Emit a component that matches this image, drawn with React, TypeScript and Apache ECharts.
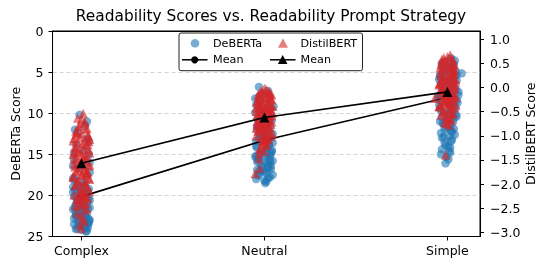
import React, { useEffect, useRef } from "react";
import * as echarts from "echarts";

const categories = ["Complex", "Neutral", "Simple"];

// [jitter offset from category, score]
const debertaComplex: [number, number][] = [
  [-0.01, 10.2], [0.02, 11.5], [-0.02, 12.4], [0.03, 13.1], [-0.03, 13.8], [0.01, 14.5], [0.04, 15.0], [-0.04, 15.6], [0.02, 22.6], [-0.01, 16.6],
  [0.03, 23.6], [-0.03, 22.4], [0.0, 21.8], [0.04, 23.4], [-0.04, 18.2], [0.02, 18.5], [-0.02, 18.8], [0.01, 19.0], [-0.035, 19.3], [0.035, 19.5],
  [-0.01, 19.7], [0.02, 19.9], [-0.04, 20.1], [0.04, 20.3], [0.0, 20.5], [-0.02, 20.7], [0.03, 20.9], [-0.03, 21.1], [0.01, 21.3], [0.045, 21.5],
  [-0.045, 21.7], [0.02, 21.9], [-0.01, 22.1], [0.03, 22.3], [-0.03, 22.5], [0.0, 22.7], [0.04, 22.9], [-0.02, 23.1], [0.02, 23.3], [-0.04, 23.5],
  [0.01, 23.7], [0.035, 23.9], [-0.025, 24.0], [0.0, 24.2], [0.025, 24.4], [-0.01, 21.0], [0.015, 20.0], [-0.03, 22.0], [0.045, 23.0], [-0.045, 19.0],
  [0.03, 17.6], [-0.035, 18.0], [0.01, 18.4], [-0.015, 18.9], [0.04, 19.2], [-0.045, 19.6], [0.005, 19.8], [0.025, 20.2], [-0.025, 20.4], [0.045, 20.6],
  [-0.005, 20.8], [0.015, 21.2], [-0.035, 21.4], [0.035, 21.6], [-0.02, 21.8], [0.0, 22.2], [0.02, 22.4], [-0.04, 22.8], [0.04, 23.2], [-0.01, 23.4],
  [0.01, 23.8], [-0.03, 24.1], [0.03, 24.3], [-0.015, 23.6], [0.02, 24.0], [-0.045, 16.4], [0.045, 17.2], [-0.04, 14.8], [0.04, 13.5], [0.03, 11.0],
  [-0.035, 12.0], [0.045, 16.0], [-0.045, 17.9], [0.0, 19.4], [-0.02, 20.6],
];
const debertaNeutral: [number, number][] = [
  [-0.03, 6.8], [0.02, 7.3], [-0.05, 8.2], [0.01, 8.7], [-0.045, 9.0], [0.03, 9.4], [-0.02, 9.8], [0.035, 10.1], [0.0, 10.4], [-0.035, 10.8],
  [0.02, 11.1], [-0.01, 11.4], [0.03, 11.7], [-0.04, 12.0], [0.01, 12.3], [-0.02, 12.6], [0.035, 12.9], [-0.03, 13.2], [0.0, 13.5], [0.025, 13.8],
  [-0.045, 14.0], [0.015, 14.3], [-0.015, 14.6], [0.035, 14.9], [-0.03, 15.1], [0.005, 15.4], [0.03, 15.7], [-0.04, 15.9], [0.02, 16.2], [-0.01, 16.5],
  [0.035, 16.8], [-0.025, 17.0], [0.01, 17.3], [-0.035, 17.6], [0.02, 17.9], [0.0, 18.2], [0.005, 18.5], [-0.02, 11.9], [0.025, 10.7], [-0.01, 9.5],
  [0.015, 12.2], [-0.005, 13.0], [0.04, 14.5], [-0.035, 15.5], [0.03, 16.0], [0.02, 16.6], [-0.025, 7.9], [0.01, 14.2], [-0.045, 15.2], [0.045, 13.6],
  [-0.04, 14.2], [0.04, 14.7], [-0.05, 15.3], [0.045, 15.8], [-0.02, 16.3], [0.02, 16.7], [0.0, 17.1], [-0.03, 17.4], [0.03, 17.8], [0.01, 18.3],
  [-0.01, 17.0], [0.035, 16.4], [-0.035, 15.6], [0.015, 15.0], [-0.015, 14.8], [0.025, 13.9], [-0.045, 13.4], [0.045, 12.5], [-0.04, 11.6], [0.04, 10.9],
  [-0.05, 9.9], [0.05, 9.2], [-0.03, 8.5], [0.03, 8.0], [-0.01, 7.6], [0.0, 12.0], [0.02, 11.3], [-0.02, 10.2], [0.01, 13.1], [-0.025, 12.8],
  [0.03, 15.2], [-0.04, 16.9], [0.0, 15.9], [0.045, 17.5], [-0.045, 18.0],
];
const debertaSimple: [number, number][] = [
  [0.02, 3.3], [-0.01, 3.7], [0.035, 4.0], [-0.03, 4.3], [0.005, 4.6], [0.045, 4.9], [0.078, 5.15], [-0.04, 5.3], [0.02, 5.6], [-0.015, 5.9],
  [0.03, 6.2], [-0.035, 6.4], [0.01, 6.7], [0.04, 7.0], [-0.02, 7.2], [0.0, 7.5], [0.025, 7.7], [-0.045, 7.9], [0.015, 8.2], [0.05, 8.4],
  [-0.025, 8.6], [0.005, 8.9], [0.035, 9.1], [-0.04, 9.4], [0.02, 9.6], [-0.01, 9.9], [0.045, 10.2], [-0.03, 10.5], [0.01, 10.8], [0.03, 11.1],
  [-0.02, 11.4], [0.0, 11.8], [0.02, 12.1], [-0.035, 12.4], [0.01, 12.8], [0.025, 13.2], [-0.015, 13.6], [0.005, 14.0], [-0.03, 14.4], [0.015, 14.8],
  [-0.005, 15.3], [-0.01, 16.1], [0.05, 6.0], [-0.05, 8.0], [0.04, 5.5], [-0.02, 4.8], [0.06, 7.4], [0.03, 9.8],
  [0.03, 4.2], [-0.025, 5.1], [0.01, 5.8], [-0.01, 6.6], [0.02, 4.5], [-0.03, 6.9], [0.0, 5.0], [0.015, 6.3], [-0.04, 5.6], [0.045, 7.1],
  [0.04, 3.6], [-0.03, 3.9], [0.01, 4.4], [0.05, 5.4], [-0.045, 5.9], [0.03, 6.5], [-0.02, 7.0], [0.06, 7.8], [-0.05, 8.3], [0.02, 8.8],
  [0.045, 9.3], [-0.035, 9.7], [0.0, 10.1], [0.035, 10.6], [-0.04, 11.0], [0.015, 11.6], [-0.015, 12.0], [0.04, 12.6], [-0.03, 13.0], [0.02, 13.4],
  [-0.01, 13.9], [0.01, 14.6], [-0.035, 15.0], [0.005, 15.6], [0.025, 12.3], [-0.025, 11.2], [0.05, 10.4], [-0.045, 9.0], [0.0, 6.1], [0.03, 4.7],
  [-0.02, 12.9], [0.015, 14.2], [0.035, 11.9], [-0.005, 10.9], [0.055, 8.7],
];

const distilComplex: [number, number][] = [
  [0.01, -0.54], [-0.02, -0.63], [0.02, -0.71], [-0.01, -0.78], [0.03, -0.84], [-0.03, -0.9], [0.0, -0.95], [0.04, -1.01], [-0.04, -1.05], [0.02, -1.09],
  [-0.02, -1.14], [0.035, -1.18], [-0.035, -1.22], [0.01, -1.27], [-0.01, -1.31], [0.045, -1.35], [-0.045, -1.38], [0.02, -1.43], [-0.025, -1.47], [0.03, -1.51],
  [0.0, -1.55], [-0.04, -1.58], [0.04, -1.62], [-0.015, -1.66], [0.015, -1.7], [-0.03, -1.74], [0.03, -1.77], [0.0, -1.82], [-0.045, -1.86], [0.045, -1.9],
  [-0.02, -1.94], [0.02, -1.99], [-0.035, -2.03], [0.035, -2.08], [0.005, -2.13], [-0.01, -2.19], [0.025, -2.25], [-0.025, -2.31], [0.01, -2.38], [-0.015, -2.46],
  [0.02, -2.55], [-0.005, -2.66], [0.015, -2.78], [0.0, -2.92], [0.04, -1.12], [-0.04, -1.33], [0.01, -1.45], [-0.01, -1.6], [0.025, -1.79], [-0.03, -0.98],
  [0.0, -0.66], [0.015, -0.74], [-0.015, -0.81], [0.025, -0.87], [-0.025, -0.93], [0.035, -0.99], [-0.005, -1.03], [0.045, -1.07], [-0.045, -1.1], [0.005, -1.16],
  [0.025, -1.2], [-0.03, -1.25], [0.04, -1.29], [-0.02, -1.34], [0.0, -1.4], [0.03, -1.42], [-0.04, -1.48], [0.01, -1.53], [-0.01, -1.57], [0.045, -1.6],
  [-0.035, -1.64], [0.02, -1.68], [-0.02, -1.72], [0.035, -1.75], [0.005, -1.8], [-0.045, -1.84], [0.04, -1.88], [-0.015, -1.92], [0.015, -1.97], [-0.03, -2.01],
  [0.03, -2.05], [-0.005, -2.1], [0.045, -2.16], [-0.04, -2.22], [0.02, -2.28], [-0.02, -2.34], [0.0, -2.42], [0.03, -2.5], [-0.025, -2.6], [0.01, -2.72],
  [-0.01, -2.85], [0.005, -2.2], [0.025, -2.4], [-0.035, -2.45], [0.035, -2.3], [0.0, -2.24], [0.004, -2.27], [-0.004, -2.29], [0.002, -2.21],
];
const distilNeutral: [number, number][] = [
  [0.0, -0.02], [-0.02, -0.07], [0.025, -0.11], [-0.035, -0.15], [0.01, -0.19], [0.035, -0.23], [-0.01, -0.26], [-0.04, -0.3], [0.02, -0.33], [0.04, -0.37],
  [-0.025, -0.4], [0.005, -0.43], [0.03, -0.46], [-0.045, -0.49], [0.015, -0.52], [-0.015, -0.55], [0.04, -0.58], [-0.03, -0.61], [0.0, -0.64], [0.025, -0.67],
  [-0.04, -0.7], [0.01, -0.73], [0.035, -0.76], [-0.02, -0.79], [0.02, -0.82], [-0.005, -0.86], [-0.035, -0.9], [0.03, -0.94], [0.005, -0.98], [-0.02, -1.03],
  [0.02, -1.08], [-0.01, -1.14], [0.01, -1.2], [-0.025, -1.28], [-0.03, -1.36], [-0.03, -1.47], [-0.025, -1.67], [-0.05, -1.78], [0.03, -0.2], [-0.02, -0.45],
  [0.015, -0.6], [-0.01, -0.35], [0.045, -0.52], [-0.045, -0.84], [0.0, -0.74],
  [0.01, -0.04], [-0.01, -0.09], [0.03, -0.13], [-0.03, -0.17], [0.0, -0.22], [0.04, -0.25], [-0.04, -0.28], [0.02, -0.31], [-0.02, -0.36], [0.045, -0.39],
  [-0.045, -0.42], [0.01, -0.47], [-0.01, -0.5], [0.035, -0.54], [-0.035, -0.57], [0.005, -0.62], [0.025, -0.65], [-0.025, -0.68], [0.04, -0.71], [-0.04, -0.75],
  [0.015, -0.78], [-0.015, -0.81], [0.03, -0.85], [-0.03, -0.88], [0.0, -0.92], [0.045, -0.96], [-0.045, -1.0], [0.02, -1.05], [-0.01, -1.1], [0.01, -1.17],
  [-0.02, -1.24], [0.0, -1.32], [0.025, -0.08], [-0.025, -0.27], [0.015, -0.44], [-0.005, -0.69], [0.03, -0.59], [-0.035, -0.34], [0.04, -0.15], [-0.04, -0.56],
  [0.005, -0.87], [0.035, -1.02], [-0.015, -0.12], [0.02, -0.4], [-0.03, -0.77], [0.0, -1.08], [0.004, -1.11], [-0.004, -1.09], [0.002, -1.06],
];
const distilSimple: [number, number][] = [
  [0.015, 0.675], [-0.02, 0.62], [0.03, 0.57], [-0.03, 0.53], [0.0, 0.49], [0.04, 0.45], [-0.04, 0.41], [0.02, 0.37], [-0.01, 0.33], [0.035, 0.29],
  [-0.035, 0.25], [0.01, 0.21], [0.045, 0.17], [-0.025, 0.13], [0.025, 0.1], [-0.045, 0.06], [0.005, 0.03], [0.035, -0.01], [-0.015, -0.05], [0.02, -0.08],
  [-0.04, -0.12], [0.04, -0.15], [0.0, -0.19], [-0.07, -0.22], [0.03, -0.26], [-0.02, -0.3], [0.015, -0.34], [-0.035, -0.38], [0.04, -0.42], [0.005, -0.46],
  [-0.025, -0.5], [0.025, -0.55], [-0.01, -0.6], [0.02, -0.66], [-0.015, -0.72], [0.01, -0.78], [-0.01, -1.4], [0.0, 0.15], [-0.03, -0.02], [0.03, 0.35],
  [0.01, -0.32], [-0.005, 0.44], [0.045, -0.2], [-0.045, -0.4],
  [0.0, 0.64], [0.02, 0.59], [-0.015, 0.55], [0.035, 0.51], [-0.035, 0.47], [0.01, 0.43], [-0.025, 0.39], [0.04, 0.36], [-0.04, 0.31], [0.02, 0.27],
  [-0.005, 0.23], [0.03, 0.19], [-0.03, 0.16], [0.045, 0.12], [-0.045, 0.08], [0.015, 0.04], [-0.015, 0.01], [0.04, -0.03], [-0.04, -0.06], [0.005, -0.1],
  [0.025, -0.13], [-0.025, -0.17], [0.035, -0.21], [-0.03, -0.24], [0.01, -0.28], [-0.01, -0.32], [0.045, -0.36], [-0.045, -0.39], [0.02, -0.44], [-0.02, -0.48],
  [0.03, -0.52], [-0.035, -0.57], [0.0, -0.62], [0.015, -0.68], [-0.005, -0.74], [0.025, 0.42], [-0.02, 0.2], [0.04, 0.05], [-0.01, -0.16], [0.01, -0.35],
  [0.03, 0.3], [-0.04, 0.1], [0.0, -0.04], [0.02, -0.55], [-0.03, 0.58], [0.0, -0.2], [0.004, -0.23], [-0.004, -0.22], [0.002, -0.18],
];

const debertaMeans = [20.15, 13.3, 8.1];
const distilMeans = [-1.57, -0.62, -0.09];

const leftTickValues = [0, 5, 10, 15, 20, 25];
const rightTickValues = [-3, -2.5, -2, -1.5, -1, -0.5, 0, 0.5, 1];
const xTickValues = [0, 1, 2];

const FONT = "DejaVu Sans";
const BLUE = "#1f77b4";
const RED = "#d62728";

function place(clusters: [number, number][][]) {
  const out: number[][] = [];
  clusters.forEach((c, i) => c.forEach(([j, v]) => out.push([i + j, v])));
  return out;
}

export default function App() {
  const ref = useRef<HTMLDivElement>(null);
  useEffect(() => {
    if (!ref.current) return;
    const chart = echarts.init(ref.current, undefined, { renderer: "svg" });
    const fmtRight = (v: number) => (v < 0 ? "\u2212" + Math.abs(v).toFixed(1) : v.toFixed(1));
    const legendFont = `11.2px "${FONT}"`;
    chart.setOption({
      animation: false,
      textStyle: { fontFamily: FONT },
      title: {
        text: "Readability Scores vs. Readability Prompt Strategy",
        left: 266,
        textAlign: "center",
        top: 3,
        textStyle: { fontFamily: FONT, fontSize: 15.4, fontWeight: "normal", color: "#000" },
      },
      grid: {
        left: 52.5,
        right: 68,
        top: 31,
        bottom: 31.5,
        show: true,
        borderColor: "#000",
        borderWidth: 1,
        backgroundColor: "transparent",
        outerBoundsMode: "none",
        containLabel: false,
      },
      xAxis: [
        {
          type: "value",
          min: -0.158,
          max: 2.178,
          splitLine: { show: false },
          axisLine: { show: true, onZero: false, lineStyle: { color: "#000", width: 1 } },
          axisTick: { show: true, customValues: xTickValues, length: 4, lineStyle: { color: "#000" } },
          axisLabel: {
            customValues: xTickValues,
            formatter: (v: number) => categories[Math.round(v)],
            color: "#000",
            fontSize: 12.5,
            fontFamily: FONT,
            margin: 7,
          },
        },
        {
          type: "value",
          position: "top",
          min: -0.158,
          max: 2.178,
          splitLine: { show: false },
          axisLine: { show: true, onZero: false, lineStyle: { color: "#000", width: 1 } },
          axisTick: { show: false },
          axisLabel: { show: false },
        },
      ],
      yAxis: [
        {
          type: "value",
          inverse: true,
          min: 0,
          max: 25,
          interval: 5,
          position: "left",
          name: "DeBERTa Score",
          nameLocation: "middle",
          nameGap: 31,
          nameMoveOverlap: false,
          nameTextStyle: { fontFamily: FONT, fontSize: 12.5, color: "#000" },
          axisLine: { show: true, onZero: false, lineStyle: { color: "#000" } },
          axisTick: { show: true, length: 4, lineStyle: { color: "#000" } },
          axisLabel: { color: "#000", fontSize: 12.5, fontFamily: FONT, margin: 9, customValues: leftTickValues },
          splitLine: { show: true, lineStyle: { color: "#cfcfcf", type: [4, 3], width: 0.9 } },
        },
        {
          type: "value",
          min: -3.087,
          max: 1.172,
          position: "right",
          name: "DistilBERT Score",
          nameLocation: "middle",
          nameGap: 44,
          nameRotate: 90,
          nameMoveOverlap: false,
          nameTextStyle: { fontFamily: FONT, fontSize: 12.5, color: "#000" },
          axisLine: { show: true, onZero: false, lineStyle: { color: "#000" } },
          axisTick: { show: true, length: 4, customValues: rightTickValues, lineStyle: { color: "#000" } },
          axisLabel: {
            customValues: rightTickValues,
            formatter: fmtRight,
            color: "#000",
            fontSize: 12.5,
            fontFamily: FONT,
            margin: 10,
          },
          splitLine: { show: false },
        },
      ],
      series: [
        {
          name: "DeBERTa",
          type: "scatter",
          yAxisIndex: 0,
          z: 2,
          symbol: "circle",
          symbolSize: 8.5,
          itemStyle: { color: BLUE, opacity: 0.6 },
          data: place([debertaComplex, debertaNeutral, debertaSimple]),
          silent: true,
        },
        {
          name: "Mean DeBERTa",
          type: "line",
          yAxisIndex: 0,
          z: 3,
          symbol: "circle",
          symbolSize: 7,
          itemStyle: { color: "#000" },
          lineStyle: { color: "#000", width: 1.6 },
          data: debertaMeans.map((v, i) => [i, v]),
          silent: true,
        },
        {
          name: "DistilBERT",
          type: "scatter",
          yAxisIndex: 1,
          z: 4,
          symbol: "triangle",
          symbolSize: 9.5,
          itemStyle: { color: RED, opacity: 0.6 },
          data: place([distilComplex, distilNeutral, distilSimple]),
          silent: true,
        },
        {
          name: "Mean DistilBERT",
          type: "line",
          yAxisIndex: 1,
          z: 5,
          symbol: "triangle",
          symbolSize: 10,
          itemStyle: { color: "#000" },
          lineStyle: { color: "#000", width: 1.6 },
          data: distilMeans.map((v, i) => [i, v]),
          silent: true,
        },
      ],
      graphic: {
        elements: [
          {
            type: "group",
            z: 100,
            children: [
              {
                type: "rect",
                shape: { x: 179, y: 33, width: 183.5, height: 37.7, r: 2 },
                style: { fill: "rgba(255,255,255,0.85)", stroke: "#222", lineWidth: 1 },
              },
              { type: "circle", shape: { cx: 195, cy: 43.3, r: 4.3 }, style: { fill: BLUE, opacity: 0.6 } },
              {
                type: "text",
                style: { x: 213, y: 43.3, text: "DeBERTa", font: legendFont, fill: "#000", textVerticalAlign: "middle" },
              },
              {
                type: "polygon",
                shape: { points: [[283, 38.3], [288, 47.8], [278, 47.8]] },
                style: { fill: RED, opacity: 0.6 },
              },
              {
                type: "text",
                style: { x: 300.5, y: 43.3, text: "DistilBERT", font: legendFont, fill: "#000", textVerticalAlign: "middle" },
              },
              { type: "line", shape: { x1: 182, y1: 59.8, x2: 207.5, y2: 59.8 }, style: { stroke: "#000", lineWidth: 1.5 } },
              { type: "circle", shape: { cx: 194.7, cy: 59.8, r: 3.6 }, style: { fill: "#000" } },
              {
                type: "text",
                style: { x: 213, y: 59.8, text: "Mean", font: legendFont, fill: "#000", textVerticalAlign: "middle" },
              },
              { type: "line", shape: { x1: 270, y1: 59.8, x2: 295.5, y2: 59.8 }, style: { stroke: "#000", lineWidth: 1.5 } },
              {
                type: "polygon",
                shape: { points: [[282.7, 55], [287.5, 64], [277.9, 64]] },
                style: { fill: "#000" },
              },
              {
                type: "text",
                style: { x: 300.5, y: 59.8, text: "Mean", font: legendFont, fill: "#000", textVerticalAlign: "middle" },
              },
            ],
          },
        ],
      },
    });
    return () => chart.dispose();
  }, []);
  return <div ref={ref} style={{ position: "fixed", left: 0, top: 0, width: 548, height: 268 }} />;
}
